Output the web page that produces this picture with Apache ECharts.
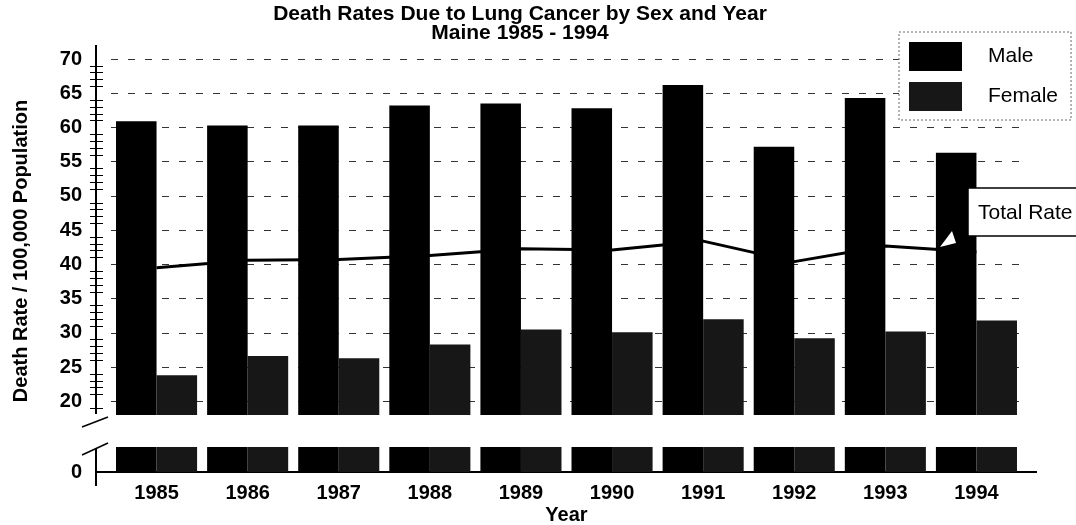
<!DOCTYPE html>
<html>
<head>
<meta charset="utf-8">
<title>Death Rates Due to Lung Cancer by Sex and Year</title>
<script src="https://cdn.jsdelivr.net/npm/echarts@6/dist/echarts.min.js"></script>
<style>
  html, body { margin: 0; padding: 0; background: #fff; }
  #chart { width: 1076px; height: 525px; }
</style>
</head>
<body>
<div id="chart"></div>
<script>
// values (rate per 100,000)
const years = ['1985', '1986', '1987', '1988', '1989', '1990', '1991', '1992', '1993', '1994'];
const maleRates = [60.9, 60.3, 60.3, 63.2, 63.5, 62.8, 66.2, 57.2, 64.3, 56.3];
const femaleRates = [23.8, 26.6, 26.3, 28.3, 30.5, 30.1, 32.0, 29.2, 30.2, 31.8];
const totalRates = [39.5, 40.6, 40.7, 41.3, 42.3, 42.1, 43.4, 40.4, 42.7, 41.8];
const lowTicks = [0];

const FONT = "'Liberation Sans', Arial, Helvetica, sans-serif";
const labelStyle = { fontFamily: FONT, fontSize: 20, fontWeight: 'bold', color: '#000' };

const chart = echarts.init(document.getElementById('chart'));

// two grids = broken value axis (18-70 on top, 0 at the bottom)
const option = {
  animation: false,
  backgroundColor: '#fff',
  title: {
    text: 'Death Rates Due to Lung Cancer by Sex and Year\nMaine 1985 - 1994',
    left: 520,
    top: 5,
    padding: 0,
    textAlign: 'center',
    textStyle: { fontFamily: FONT, fontSize: 21, fontWeight: 'bold', color: '#000', lineHeight: 19 }
  },
  legend: {
    data: ['Male', 'Female'],
    orient: 'vertical',
    left: 899,
    top: 32,
    padding: [10, 13, 10, 10],
    backgroundColor: '#fff',
    itemWidth: 53,
    itemHeight: 29,
    itemGap: 11,
    icon: 'rect',
    textStyle: { fontFamily: FONT, fontSize: 21, color: '#000', padding: [0, 0, 0, 21] }
  },
  grid: [
    { left: 111, top: 59, width: 911, height: 356, outerBoundsMode: 'none' },
    { left: 111, top: 447, width: 911, height: 25, outerBoundsMode: 'none' }
  ],
  xAxis: [
    { type: 'category', gridIndex: 0, data: years, show: false },
    {
      type: 'category',
      gridIndex: 1,
      data: years,
      axisLine: { show: false },
      axisTick: { alignWithLabel: true, length: 8, lineStyle: { color: '#888' } },
      axisLabel: Object.assign({ margin: 11 }, labelStyle),
      name: 'Year',
      nameLocation: 'middle',
      nameGap: 33,
      nameTextStyle: labelStyle
    }
  ],
  yAxis: [
    {
      type: 'value',
      gridIndex: 0,
      position: 'left',
      min: 18,
      max: 70,
      minInterval: 5,
      maxInterval: 5,
      splitNumber: 10,
      offset: 15,
      axisLine: { show: false },
      axisTick: { length: 10, lineStyle: { color: '#000' } },
      minorTick: { show: true, splitNumber: 5, length: 6, lineStyle: { color: '#000' } },
      axisLabel: Object.assign({
        margin: 14,
        formatter: function (v) { return v % 5 === 0 ? String(v) : ''; }
      }, labelStyle),
      splitLine: { show: true, showMinLine: false, lineStyle: { color: '#333', width: 1, type: [7, 10] } },
      name: 'Death Rate / 100,000 Population',
      nameLocation: 'middle',
      nameGap: 65,
      nameTextStyle: Object.assign({ padding: [0, 28, 0, 0] }, labelStyle)
    },
    {
      // same scale, ticks pointing inwards so they cross the axis line
      type: 'value',
      gridIndex: 0,
      position: 'left',
      min: 18,
      max: 70,
      minInterval: 5,
      maxInterval: 5,
      splitNumber: 10,
      offset: 15,
      axisLine: { show: false },
      axisTick: { inside: true, length: 5, lineStyle: { color: '#000' } },
      minorTick: { show: true, splitNumber: 5, length: 7, lineStyle: { color: '#000' } },
      axisLabel: { show: false },
      splitLine: { show: false }
    },
    {
      type: 'value',
      gridIndex: 1,
      position: 'left',
      min: 0,
      max: 3.655,
      offset: 15,
      axisLine: { show: false },
      axisTick: { customValues: lowTicks, length: 10, lineStyle: { color: '#000' } },
      axisLabel: Object.assign({
        customValues: lowTicks,
        margin: 14,
        formatter: function (v) { return v === 0 ? '0' : ''; }
      }, labelStyle),
      splitLine: { show: false }
    }
  ],
  series: [
    {
      name: 'Male', type: 'bar', xAxisIndex: 0, yAxisIndex: 0, data: maleRates,
      barGap: '0%', barCategoryGap: '11%', itemStyle: { color: '#000' }, z: 3, silent: true
    },
    {
      name: 'Female', type: 'bar', xAxisIndex: 0, yAxisIndex: 0, data: femaleRates,
      barGap: '0%', barCategoryGap: '11%', itemStyle: { color: '#171717' }, z: 3, silent: true
    },
    {
      name: 'Male', type: 'bar', xAxisIndex: 1, yAxisIndex: 2, data: maleRates,
      barGap: '0%', barCategoryGap: '11%', itemStyle: { color: '#000' }, z: 3, silent: true
    },
    {
      name: 'Female', type: 'bar', xAxisIndex: 1, yAxisIndex: 2, data: femaleRates,
      barGap: '0%', barCategoryGap: '11%', itemStyle: { color: '#171717' }, z: 3, silent: true
    },
    {
      name: 'Total Rate', type: 'line', xAxisIndex: 0, yAxisIndex: 0, data: totalRates,
      symbol: 'none', lineStyle: { color: '#000', width: 3 }, z: 2, silent: true
    }
  ],
  graphic: [
    // axis lines and the break marks
    { type: 'line', z: 100, shape: { x1: 96, y1: 45, x2: 96, y2: 414 }, style: { stroke: '#000', lineWidth: 2 } },
    { type: 'line', z: 100, shape: { x1: 96, y1: 448, x2: 96, y2: 486 }, style: { stroke: '#000', lineWidth: 2 } },
    { type: 'line', z: 100, shape: { x1: 82, y1: 427, x2: 108, y2: 417 }, style: { stroke: '#000', lineWidth: 1.5 } },
    { type: 'line', z: 100, shape: { x1: 82, y1: 455, x2: 108, y2: 443 }, style: { stroke: '#000', lineWidth: 1.5 } },
    { type: 'line', z: 1, shape: { x1: 96, y1: 472, x2: 1037, y2: 472 }, style: { stroke: '#000', lineWidth: 2 } },
    // legend frame
    { type: 'rect', z: 100, shape: { x: 899, y: 32, width: 172, height: 88 }, style: { fill: null, stroke: '#666', lineWidth: 1, lineDash: [2, 2] } },
    // "Total Rate" callout
    { type: 'rect', z: 100, shape: { x: 968, y: 188, width: 130, height: 48 }, style: { fill: '#fff', stroke: '#000', lineWidth: 1.5 } },
    { type: 'text', z: 101, x: 978, y: 213, style: { text: 'Total Rate', fontFamily: FONT, fontSize: 21, fill: '#000', verticalAlign: 'middle' } },
    { type: 'polygon', z: 101, shape: { points: [[952, 231], [940, 247], [956, 243]] }, style: { fill: '#fff' } }
  ]
};

chart.setOption(option);
</script>
</body>
</html>
